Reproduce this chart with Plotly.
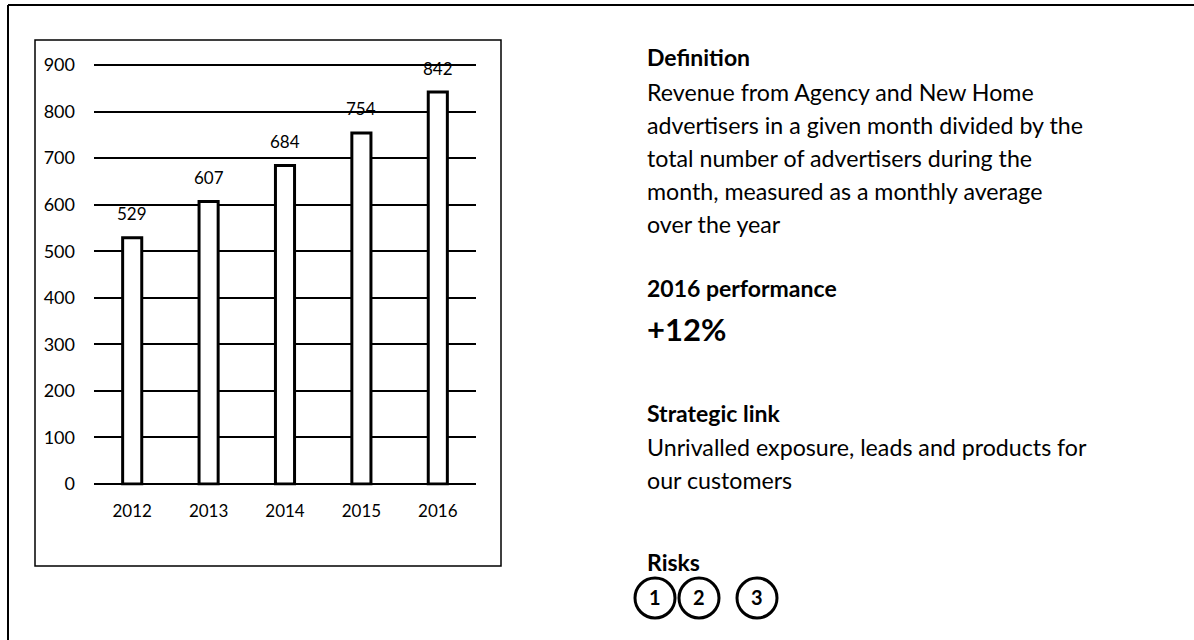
import plotly.graph_objects as go

years = ["2012", "2013", "2014", "2015", "2016"]
values = [529, 607, 684, 754, 842]
y_ticks = [0, 100, 200, 300, 400, 500, 600, 700, 800, 900]

definition_title = "Definition"
definition_lines = [
    "Revenue from Agency and New Home",
    "advertisers in a given month divided by the",
    "total number of advertisers during the",
    "month, measured as a monthly average",
    "over the year",
]
perf_title = "2016 performance"
perf_value = "+12%"
link_title = "Strategic link"
link_lines = ["Unrivalled exposure, leads and products for", "our customers"]
risks_title = "Risks"
risks = ["1", "2", "3"]

W, H = 1194, 640
FONT = "Lato"


def px(x):
    return x / W


def py(y):
    return 1 - y / H


fig = go.Figure()
fig.add_trace(go.Bar(
    x=years, y=values, width=0.25,
    marker=dict(color="white", line=dict(color="black", width=3)),
    showlegend=False, hoverinfo="skip",
))

annotations = []
for i, v in enumerate(values):
    annotations.append(dict(x=i, y=v, xref="x", yref="y", text=str(v), showarrow=False,
                            yshift=24, yanchor="middle", font=dict(size=17, color="black", family=FONT)))


def txt(x, y, s, size=23.2, bold=False):
    annotations.append(dict(x=px(x), y=py(y), xref="paper", yref="paper",
                            text=f"<b>{s}</b>" if bold else s, showarrow=False,
                            xanchor="left", yanchor="middle",
                            font=dict(size=size, color="black", family=FONT)))


txt(645, 57, definition_title, size=23, bold=True)
for i, line in enumerate(definition_lines):
    txt(645, 92 + 33 * i, line)
txt(645, 288, perf_title, size=23, bold=True)
txt(645, 329, perf_value, size=31, bold=True)
txt(645, 413, link_title, size=23, bold=True)
for i, line in enumerate(link_lines):
    txt(645, 447 + 33 * i, line)
txt(645, 562, risks_title, size=23, bold=True)

shapes = [
    # outer border (top and left)
    dict(type="line", xref="paper", yref="paper", x0=px(8), x1=px(1194), y0=py(5), y1=py(5),
         line=dict(color="black", width=2)),
    dict(type="line", xref="paper", yref="paper", x0=px(8), x1=px(8), y0=py(5), y1=py(640),
         line=dict(color="black", width=2)),
    # inner chart box
    dict(type="rect", xref="paper", yref="paper", x0=px(35), x1=px(501), y0=py(40), y1=py(566),
         line=dict(color="black", width=1.5), layer="below"),
]
circle_x = [655, 699, 757]
for cx, r in zip(circle_x, risks):
    shapes.append(dict(type="circle", xref="paper", yref="paper",
                       x0=px(cx - 20), x1=px(cx + 20), y0=py(598 - 20), y1=py(598 + 20),
                       line=dict(color="black", width=3)))
    annotations.append(dict(x=px(cx), y=py(597), xref="paper", yref="paper", text=f"<b>{r}</b>",
                            showarrow=False, xanchor="center", yanchor="middle",
                            font=dict(size=20, color="black", family=FONT)))

# y scale: 0 -> 484px, 900 -> 65px; pad range a little so edge gridlines are drawn
k = (484 - 65) / 900.0
pad = 3
fig.update_layout(
    width=W, height=H, margin=dict(l=0, r=0, t=0, b=0, autoexpand=False),
    paper_bgcolor="white", plot_bgcolor="white",
    font=dict(family=FONT, color="black"),
    xaxis=dict(domain=[px(94), px(476)], type="category", range=[-0.5, 4.5], autorange=False,
               showgrid=False, zeroline=False, automargin=False,
               showline=False, ticks="", ticklabelstandoff=14, tickfont=dict(size=17), fixedrange=True),
    yaxis=dict(domain=[py(484 + pad * k), py(65 - pad * k)], range=[-pad, 900 + pad], autorange=False,
               tickvals=y_ticks, showgrid=True,
               gridcolor="black", gridwidth=1.5, zeroline=False, showline=False, ticks="", automargin=False,
               ticklabelstandoff=18, tickfont=dict(size=18), fixedrange=True),
    annotations=annotations, shapes=shapes,
)
fig.update_traces(cliponaxis=False)

fig.write_html(
    "out.html",
    config={"displayModeBar": False},
    post_script="document.body.style.margin='0';document.body.style.overflow='hidden';",
)
